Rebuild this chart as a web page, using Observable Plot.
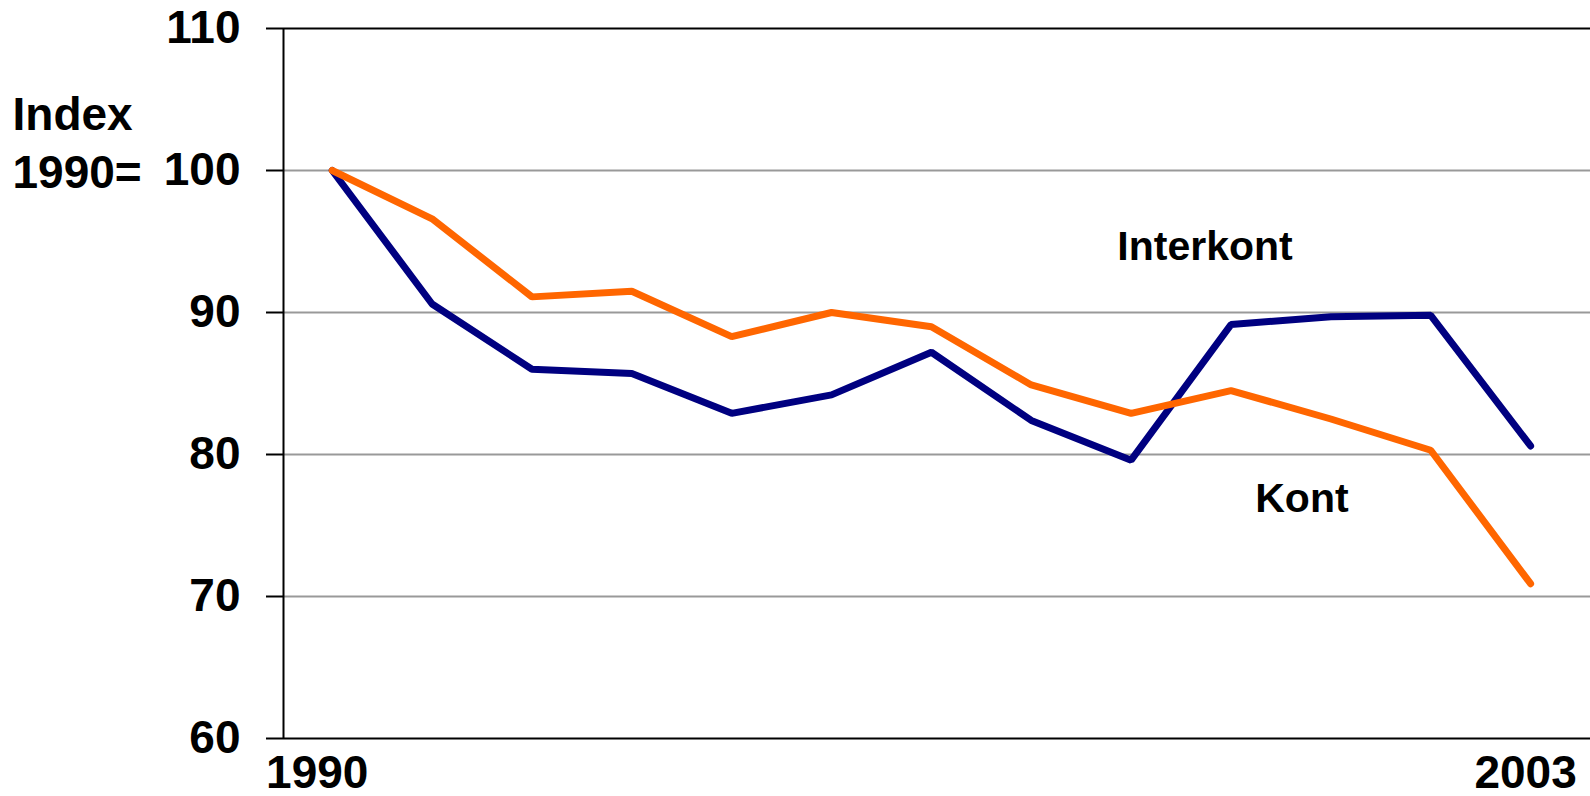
<!DOCTYPE html>
<html><head><meta charset="utf-8">
<script src="https://cdn.jsdelivr.net/npm/d3@7"></script>
<script src="https://cdn.jsdelivr.net/npm/@observablehq/plot@0.6"></script>
<style>html,body{margin:0;padding:0;background:#fff;overflow:hidden}
#chart svg{display:block}</style>
</head><body><div id="chart"></div>
<script>
// Period index (13 observations)
const periods = [0,1,2,3,4,5,6,7,8,9,10,11,12];
const periodLabels = ["1990","","","","","","","","","","","","2003"];
// Index 1990 = 100
const interkont = [100, 90.6, 86.0, 85.7, 82.9, 84.2, 87.2, 82.4, 79.6, 89.15, 89.7, 89.8, 80.6];
const kont      = [100, 96.6, 91.1, 91.5, 88.3, 90.0, 89.0, 84.9, 82.9, 84.5, 82.5, 80.3, 70.9];
const yTicks = [60, 70, 80, 90, 100, 110];
const gridValues = [70, 80, 90, 100];
const seriesNames = ["Interkont", "Kont"];
const seriesColors = ["#000080", "#FF6600"];
const seriesLabelPos = [{x: 8.74, y: 94.6}, {x: 9.71, y: 76.9}];
const axisTitle = "Index\n1990=";

const rows = [];
periods.forEach((p, i) => {
  rows.push({series: "Interkont", p, v: interkont[i]});
  rows.push({series: "Kont", p, v: kont[i]});
});
const labelRows = seriesNames.map((s, i) => ({series: s, x: seriesLabelPos[i].x, y: seriesLabelPos[i].y}));
const xTickRows = periods.map((p, i) => ({p, label: periodLabels[i]})).filter(d => d.label);

const font = "'Liberation Sans', Arial, sans-serif";
const xDomain = [-0.488, 12.6];
const xTickStyle = {x: "p", y: () => 60, text: "label", lineAnchor: "bottom", dy: 49, fontSize: 46, fontWeight: "bold", fill: "#000"};

const chart = Plot.plot({
  width: 1590,
  height: 796,
  marginLeft: 283,
  marginRight: 0,
  marginTop: 28,
  marginBottom: 58,
  style: {fontFamily: font, background: "transparent", color: "#000"},
  x: {domain: xDomain, axis: null},
  y: {domain: [60, 110], axis: null},
  color: {domain: seriesNames, range: seriesColors},
  marks: [
    Plot.ruleY(gridValues, {stroke: "#999", strokeWidth: 2}),
    Plot.ruleY([60, 110], {stroke: "#000", strokeWidth: 2}),
    Plot.ruleX([xDomain[0]], {stroke: "#000", strokeWidth: 2}),
    Plot.axisY({ticks: yTicks, tickSize: 17, tickPadding: 26, fontSize: 46, fontWeight: "bold", strokeWidth: 2, label: null, tickFormat: d => String(d)}),
    Plot.text([axisTitle], {frameAnchor: "left", y: () => 100, text: d => d, textAnchor: "start", lineAnchor: "bottom", dx: -271, dy: 17, fontSize: 46, fontWeight: "bold", lineHeight: 1.24, fill: "#000"}),
    Plot.text(xTickRows.slice(0, 1), {...xTickStyle, dx: -15}),
    Plot.text(xTickRows.slice(1), {...xTickStyle, dx: -5}),
    Plot.line(rows, {x: "p", y: "v", stroke: "series", z: "series", strokeWidth: 7, strokeLinecap: "round", strokeLinejoin: "miter"}),
    Plot.text(labelRows, {x: "x", y: "y", text: "series", fontSize: 41, fontWeight: "bold", fill: "#000"})
  ]
});
document.getElementById("chart").appendChild(chart);
</script>
</body></html>
